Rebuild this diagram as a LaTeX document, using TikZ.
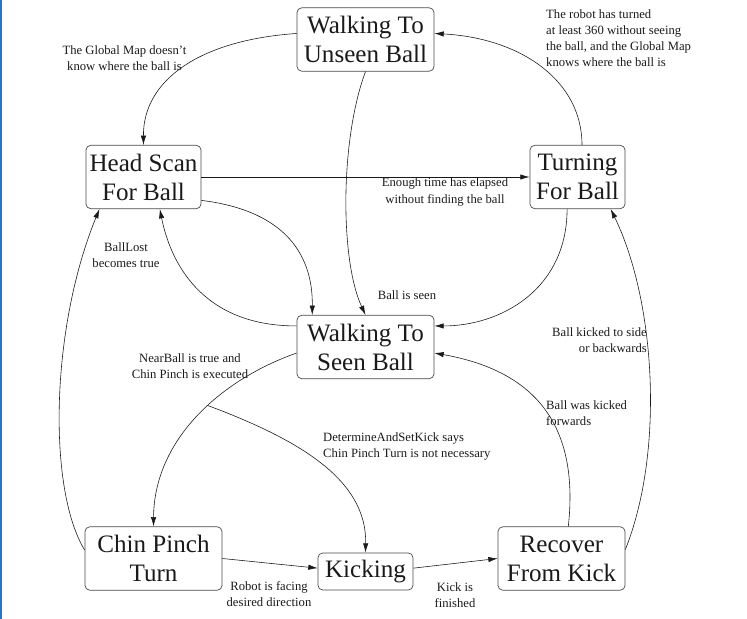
\documentclass[tikz,border=0pt]{standalone}
\usepackage{fontspec}
\setmainfont{Liberation Serif}
\usepackage{xcolor}
\usepackage{tikz}
\usetikzlibrary{arrows.meta}
\definecolor{Frame}{HTML}{4A4A4A}
\definecolor{Ink}{HTML}{1A1A1A}
\definecolor{Bar}{HTML}{2A74C6}

\begin{document}
\begin{tikzpicture}[x=0.03cm,y=-0.03cm,
  state/.style={draw=Frame,line width=0.6pt,rounded corners=4pt,align=center,inner sep=1pt,
    minimum height=1.9cm,font=\fontsize{21.4}{24.7}\selectfont,text=Ink},
  lbl/.style={align=center,inner sep=0pt,font=\fontsize{10.8}{13.7}\selectfont,text=Ink},
  tr/.style={-{Latex[length=2.8mm,width=1.6mm]},line width=0.5pt,color=Ink}]
\useasboundingbox (0,0) rectangle (747,619);
\fill[Bar] (0,0) rectangle (2,619);

\node[state,minimum width=4.11cm] (wtu) at (365.5,39.5) {Walking To\\Unseen Ball};
\node[state,minimum width=3.45cm] (hsb) at (143.5,177) {Head Scan\\For Ball};
\node[state,minimum width=2.85cm] (tfb) at (577.5,177) {Turning\\For Ball};
\node[state,minimum width=4.11cm] (wtsb) at (365.5,347) {Walking To\\Seen Ball};
\node[state,minimum width=4.11cm] (cpt) at (153.5,558.5) {Chin Pinch\\Turn};
\node[state,minimum width=2.85cm,minimum height=1.11cm] (kick) at (365.5,571.5) {Kicking};
\node[state,minimum width=3.81cm] (rfk) at (561.5,558.5) {Recover\\From Kick};

\draw[tr] (wtu.175) .. controls (200,40) and (143,80) .. (hsb.north);
\draw[tr] (tfb.82) .. controls (582,80) and (520,38) .. (wtu.5);
\draw[tr] (wtu.south) .. controls (340,140) and (340,260) .. (wtsb.north);
\draw[tr] (hsb.338) .. controls (280,210) and (313,250) .. (wtsb.149);
\draw[tr] (wtsb.163) .. controls (200,326) and (170,260) .. (hsb.297);
\draw[tr] (hsb.east) -- (tfb.west);
\draw[tr] (tfb.252) .. controls (567,290) and (500,326) .. (wtsb.17);
\draw[tr] (cpt.173) .. controls (48,490) and (50,330) .. (hsb.216);
\draw[tr] (wtsb.185) .. controls (220,380) and (154,440) .. (cpt.north) coordinate[pos=0.43] (fork);
\draw[tr] (fork) .. controls (300,440) and (367,480) .. (kick.north);
\draw[tr] (cpt.east) -- (kick.176);
\draw[tr] (kick.4) -- (rfk.west);
\draw[tr] (rfk.78) .. controls (580,420) and (530,370) .. (wtsb.355);
\draw[tr] (rfk.8) .. controls (665,450) and (655,300) .. (tfb.316);

\node[lbl] (lglobal) at (124.5,58) {The Global Map doesn't\\know where the ball is};
\node[lbl,align=left,anchor=west] (lturned) at (546,38) {The robot has turned\\at least 360 without seeing\\the ball, and the Global Map\\knows where the ball is};
\node[lbl] (lelapsed) at (445,192) {Enough time has elapsed\\without finding the ball};
\node[lbl] (lseen) at (407,295) {Ball is seen};
\node[lbl] (llost) at (126,255) {BallLost\\becomes true};
\node[lbl] (lnear) at (190,366) {NearBall is true and\\Chin Pinch is executed};
\node[lbl,align=left,anchor=west] (lset) at (323,446) {DetermineAndSetKick says\\Chin Pinch Turn is not necessary};
\node[lbl,align=right,anchor=east] (lside) at (647,340) {Ball kicked to side\\or backwards};
\node[lbl,align=left,anchor=west] (lfwd) at (546,413) {Ball was kicked\\forwards};
\node[lbl] (lfacing) at (269,594) {Robot is facing\\desired direction};
\node[lbl] (lfinished) at (455,595) {Kick is\\finished};
\end{tikzpicture}
\end{document}
